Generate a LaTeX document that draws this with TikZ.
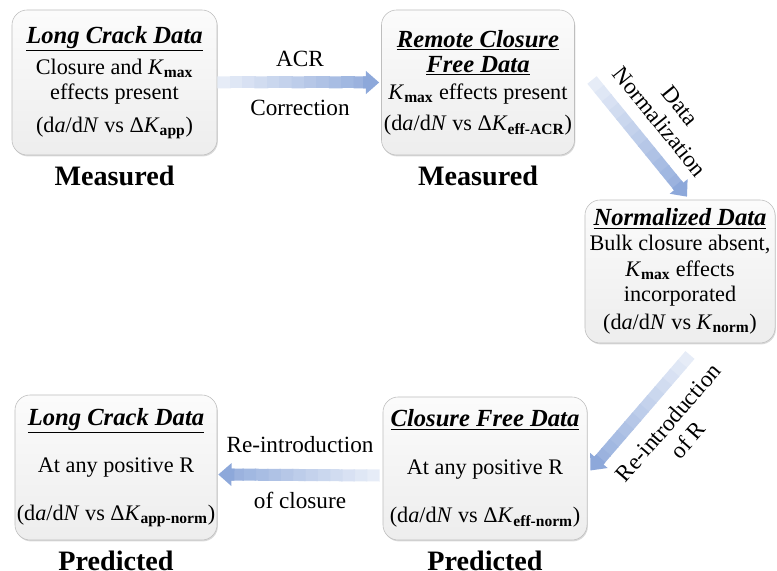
\documentclass[tikz,border=0pt]{standalone}
\usepackage{fontspec}
\setmainfont{Liberation Serif}
\usetikzlibrary{arrows.meta,positioning,calc,shadows}
\definecolor{flowblue}{HTML}{8DA8DA}
\definecolor{boxline}{HTML}{BEBEBE}

\newcommand{\hd}[1]{{\fontsize{17.5}{19}\selectfont\underline{\textbf{\textit{#1}}}}}
\newcommand{\Kx}[1]{\textit{K}\textsubscript{\textbf{#1}}}
\newcommand{\dadn}{d\textit{a}/d\textit{N} vs }
% shaded arrow, light at the tail and darker at the head
\newcommand{\gradarrow}[2]{%
  \coordinate (ga-end) at ($(#2)!0.33cm!(#1)$);
  \foreach \i in {0,...,11} {
    \pgfmathtruncatemacro{\pct}{22+\i*6}
    \draw[line width=0.3cm, flowblue!\pct!white] ($(#1)!{\i/12}!(ga-end)$) -- ($(#1)!{(\i+1)/12+0.01}!(ga-end)$);
  }
  \draw[line width=0.3cm, flowblue, -{Triangle[width=0pt 1.85, length=0pt 1.1]}] ($(#1)!0.98!(ga-end)$) -- (#2);
}

\begin{document}
\begin{tikzpicture}[x=0.025cm, y=-0.025cm,
  box/.style={rounded corners=0.38cm, draw=boxline, top color=gray!3, bottom color=gray!14,
    align=center, inner sep=1pt, font=\fontsize{15.8}{18}\selectfont,
    drop shadow={shadow xshift=0.6pt, shadow yshift=-1pt, opacity=0.3}},
  lbl/.style={font=\fontsize{16.5}{18.5}\selectfont, align=center},
  tag/.style={font=\fontsize{20}{22}\selectfont\bfseries}]
  \useasboundingbox (0,0) rectangle (777,571);

  % Boxes
  \node[box, minimum width=5.125cm, minimum height=3.625cm] (lcm) at (114.5,82.5)
    {\hd{Long Crack Data}\\[4pt] Closure and \Kx{max}\\ effects present\\[5pt] (\dadn Δ\Kx{app})};
  \node[box, minimum width=4.825cm, minimum height=3.625cm] (rcf) at (478,82.5)
    {\hd{Remote Closure}\\ \hd{Free Data}\\[1pt] \Kx{max} effects present\\[4pt] (\dadn Δ\Kx{eff-ACR})};
  \node[box, minimum width=4.75cm, minimum height=3.575cm] (nd) at (680,271.5)
    {\hd{Normalized Data}\\ Bulk closure absent,\\ \Kx{max} effects\\ incorporated\\[2pt] (\dadn \Kx{norm})};
  \node[box, minimum width=5.1cm, minimum height=3.575cm] (cfd) at (485,468.5)
    {\hd{Closure Free Data}\\[16pt] At any positive R\\[16pt] (\dadn Δ\Kx{eff-norm})};
  \node[box, minimum width=5.05cm, minimum height=3.625cm] (lcp) at (116,467.5)
    {\hd{Long Crack Data}\\[16pt] At any positive R\\[16pt] (\dadn Δ\Kx{app-norm})};

  % Measured / Predicted
  \node[tag, below=0.15cm of lcm] (m1) {Measured};
  \node[tag, below=0.15cm of rcf] (m2) {Measured};
  \node[tag, below=0.15cm of lcp] (p1) {Predicted};
  \node[tag, below=0.15cm of cfd] (p2) {Predicted};

  % Arrows
  \gradarrow{lcm.east}{$(rcf.west)+(-2,0)$}
  \coordinate (dn-a) at (592,80);
  \gradarrow{dn-a}{$(nd.north)+(7,-3)$}
  \coordinate (rr-a) at (690,355);
  \gradarrow{rr-a}{$(cfd.east)+(3,2)$}
  \gradarrow{$(cfd.west)+(-3,7)$}{$(lcp.east)+(1,7)$}

  % Arrow labels
  \node[lbl] (acr) at (300,59) {ACR};
  \node[lbl] (corr) at (300,108) {Correction};
  \node[lbl, rotate=-51] (dnorm) at (670,114) {Data\\Normalization};
  \node[lbl, rotate=49] (rer) at (678,431) {Re-introduction\\of R};
  \node[lbl] (reint) at (300,445) {Re-introduction};
  \node[lbl] (ofcl) at (300,500) {of closure};
\end{tikzpicture}
\end{document}
